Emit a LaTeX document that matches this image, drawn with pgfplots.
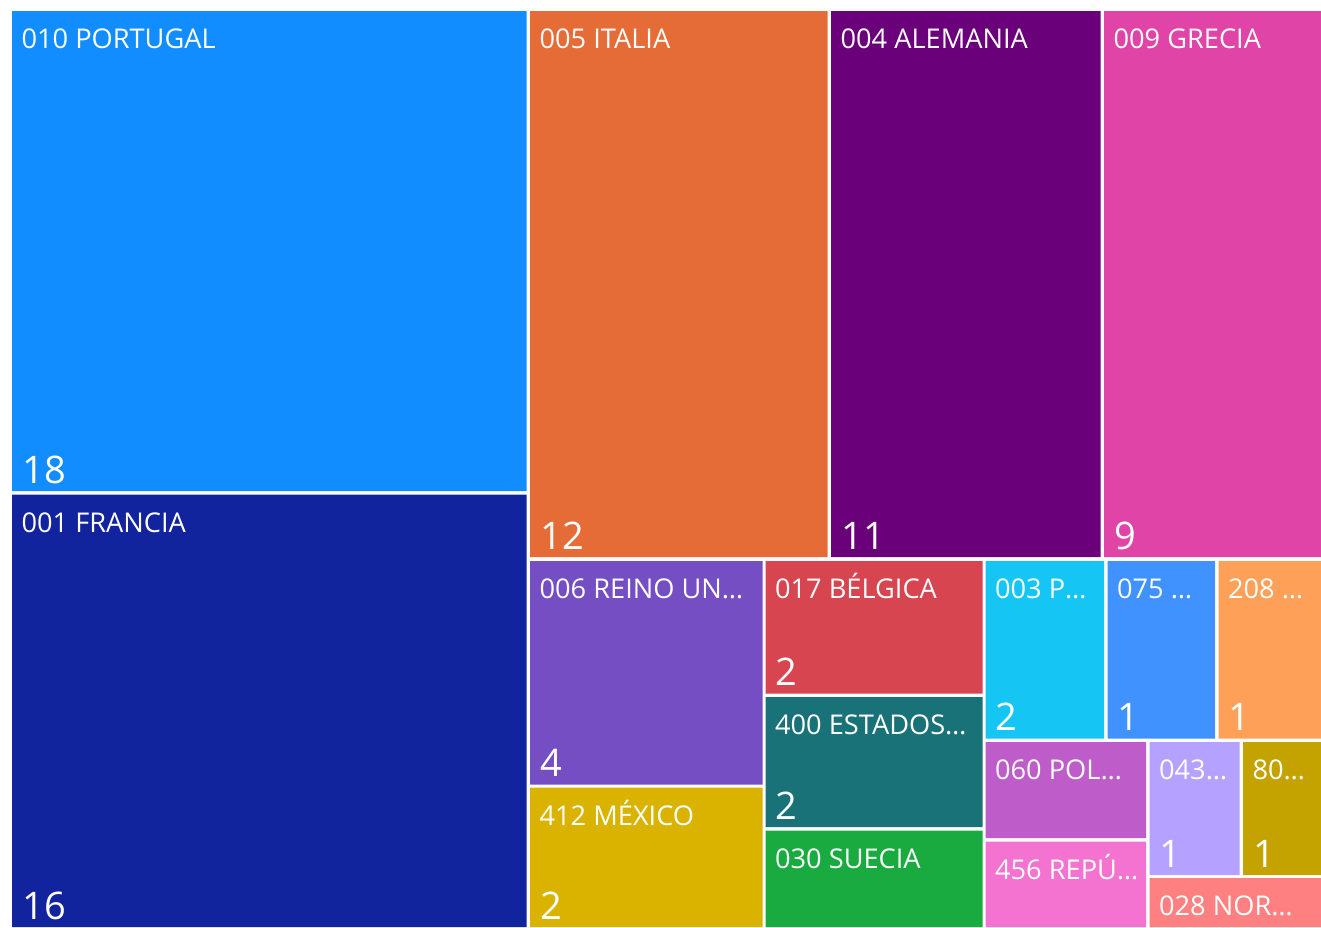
\documentclass[border=0pt]{standalone}
\usepackage{pgfplots}
\pgfplotsset{compat=1.18}
\usepackage{fontspec}
\setmainfont{Open Sans}
\definecolor{cPOR}{HTML}{118DFF}
\definecolor{cFRA}{HTML}{12239E}
\definecolor{cITA}{HTML}{E66C37}
\definecolor{cALE}{HTML}{6B007B}
\definecolor{cGRE}{HTML}{E044A7}
\definecolor{cREI}{HTML}{744EC2}
\definecolor{cMEX}{HTML}{D9B300}
\definecolor{cBEL}{HTML}{D64550}
\definecolor{cEST}{HTML}{197278}
\definecolor{cSUE}{HTML}{1AAB40}
\definecolor{cPPP}{HTML}{15C6F4}
\definecolor{cSSS}{HTML}{4092FF}
\definecolor{cTTT}{HTML}{FFA058}
\definecolor{cPOL}{HTML}{BE5DC9}
\definecolor{cREP}{HTML}{F472D0}
\definecolor{cFFF}{HTML}{B5A1FF}
\definecolor{cEEE}{HTML}{C4A200}
\definecolor{cNOR}{HTML}{FF8080}
% #1 x0, #2 x1, #3 y0, #4 y1, #5 colour, #6 label, #7 value
\newcommand{\cell}[7]{%
  \addplot[fill=#5, draw=none] coordinates {(#1,#3) (#2,#3) (#2,#4) (#1,#4) (#1,#3)};
  \node[anchor=base west, inner sep=0pt, text=white, font=\fontsize{13.6}{16}\selectfont,
        xshift=4.6pt, yshift=-18.75pt] at (axis cs:#1,#3) {#6};
  \node[anchor=base west, inner sep=0pt, text=white, font=\fontsize{19}{23}\selectfont,
        xshift=5pt, yshift=4pt] at (axis cs:#1,#4) {#7};
}
\begin{document}
\begin{tikzpicture}
\begin{axis}[
  scale only axis, width=660.5pt, height=463.5pt,
  xmin=0, xmax=1321, ymin=0, ymax=927, y dir=reverse,
  hide axis, clip=false]
\fill[white] (axis cs:0,0) rectangle (axis cs:1321,927);
\cell{12}{526.5}{11}{491}{cPOR}{010 PORTUGAL}{18}
\cell{12}{526.5}{494.5}{927}{cFRA}{001 FRANCIA}{16}
\cell{530}{827.5}{11}{557}{cITA}{005 ITALIA}{12}
\cell{831}{1100.5}{11}{557}{cALE}{004 ALEMANIA}{11}
\cell{1104}{1321}{11}{557}{cGRE}{009 GRECIA}{9}
\cell{530}{762.5}{561}{784.5}{cREI}{006 REINO UN…}{4}
\cell{530}{762.5}{787.5}{927}{cMEX}{412 MÉXICO}{2}
\cell{765.5}{982.5}{561}{693.5}{cBEL}{017 BÉLGICA}{2}
\cell{765.5}{982.5}{697}{827}{cEST}{400 ESTADOS…}{2}
\cell{765.5}{982.5}{830.5}{927}{cSUE}{030 SUECIA}{}
\cell{985.5}{1104}{561}{738.5}{cPPP}{003 P…}{2}
\cell{1107.5}{1215}{561}{738.5}{cSSS}{075 …}{1}
\cell{1218.5}{1321}{561}{738.5}{cTTT}{208 …}{1}
\cell{985.5}{1146}{742}{838}{cPOL}{060 POL…}{}
\cell{985.5}{1146}{841.5}{927}{cREP}{456 REPÚ…}{}
\cell{1149.5}{1239.5}{742}{875}{cFFF}{043…}{1}
\cell{1243}{1321}{742}{875}{cEEE}{80…}{1}
\cell{1149.5}{1321}{878}{927}{cNOR}{028 NOR…}{}
\end{axis}
\end{tikzpicture}
\end{document}
